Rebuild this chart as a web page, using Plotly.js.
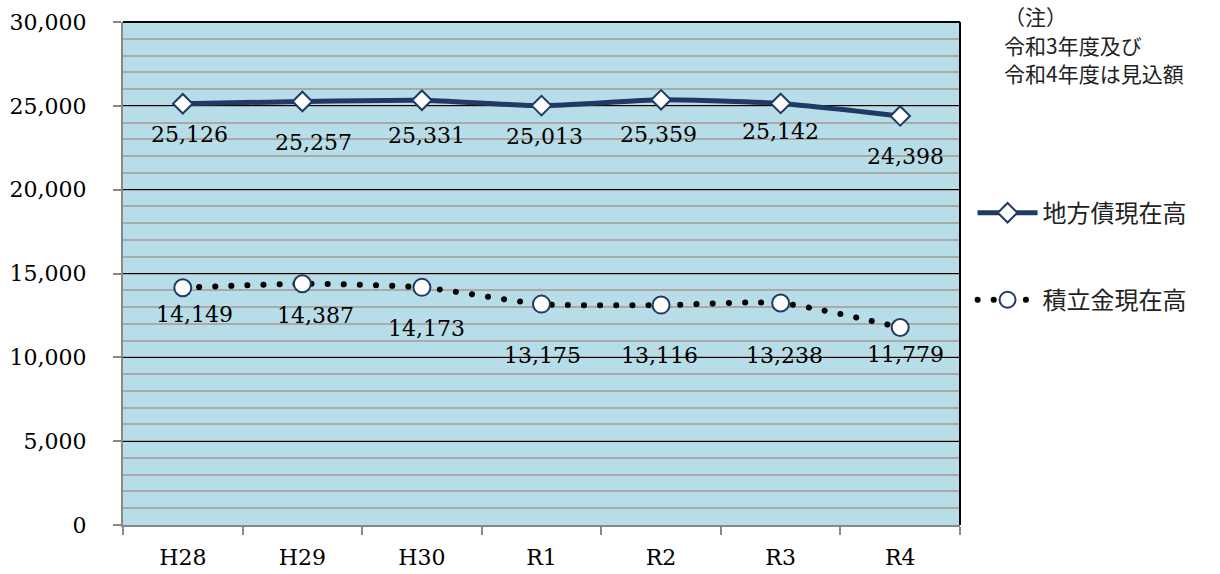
<!DOCTYPE html>
<html><head><meta charset="utf-8">
<script src="https://cdn.plot.ly/plotly-3.0.1.min.js"></script>
<style>
body{margin:0;background:#fff;}
#chart .scatterlayer .trace:nth-child(2) path.js-line, #chart .legend2 path.js-line{stroke-linecap:round;}
</style></head>
<body><div id="chart" style="width:1220px;height:574px;"></div>
<script>
const categories = ["H28","H29","H30","R1","R2","R3","R4"];
const debtValues = [25126, 25257, 25331, 25013, 25359, 25142, 24398];
const fundValues = [14149, 14387, 14173, 13175, 13116, 13238, 11779];
const seriesNames = ["地方債現在高", "積立金現在高"];
const noteLines = ["（注）", "令和3年度及び", "令和4年度は見込額"];
const yTicks = [0, 5000, 10000, 15000, 20000, 25000, 30000];

// label offsets (px) as drawn in the source
const debtLabelShift = [[7,-31],[11,-41],[5,-35],[3,-31],[-3,-35],[0,-28],[5,-41]];
const fundLabelShift = [[12,-27],[13,-32],[5,-41],[1,-51],[-2,-50],[4,-52],[5,-27]];

const numFont = {family: "DejaVu Serif", size: 22, color: "#000"};
const jpFont = {family: "Noto Sans CJK JP", size: 24, color: "#222"};
const navy = "#1F3A64";

const traces = [
  {x: categories, y: debtValues, name: seriesNames[0], type: "scatter", mode: "lines+markers",
   line: {color: navy, width: 5, shape: "spline", smoothing: 0.6},
   marker: {symbol: "diamond", size: 15, color: "#fff", line: {color: navy, width: 2}},
   legend: "legend", hoverinfo: "skip"},
  {x: categories, y: fundValues, name: seriesNames[1], type: "scatter", mode: "lines+markers",
   line: {color: "#000", width: 6, dash: "0.1px,16px", shape: "spline", smoothing: 0.6},
   marker: {symbol: "circle", size: 17, color: "#fff", line: {color: navy, width: 2}},
   legend: "legend2", hoverinfo: "skip"}
];

const fmt = v => v.toLocaleString("en-US");
const annotations = [];
categories.forEach((c, i) => {
  annotations.push({x: c, y: debtValues[i], text: fmt(debtValues[i]), showarrow: false,
    xshift: debtLabelShift[i][0], yshift: debtLabelShift[i][1], font: numFont});
  annotations.push({x: c, y: fundValues[i], text: fmt(fundValues[i]), showarrow: false,
    xshift: fundLabelShift[i][0], yshift: fundLabelShift[i][1], font: numFont});
});
const noteY = [1.012, 0.955, 0.898];
noteLines.forEach((t, i) => {
  annotations.push({xref: "paper", yref: "paper", x: 1.05, y: noteY[i],
    xanchor: "left", yanchor: "middle", showarrow: false, text: t,
    font: {family: "Noto Sans CJK JP", size: 21, color: "#222"}});
});

const layout = {
  width: 1220, height: 574,
  margin: {l: 123, r: 260, t: 22, b: 49},
  paper_bgcolor: "#fff", plot_bgcolor: "#B7DEE8",
  font: numFont,
  xaxis: {type: "category", range: [-0.5, 6.5], tickson: "boundaries", ticks: "outside", ticklen: 8, tickwidth: 2,
    tickcolor: "#888", showline: true, linecolor: "#888", linewidth: 2, showgrid: false,
    tickfont: numFont, ticklabelstandoff: 12, fixedrange: true},
  yaxis: {range: [0, 30000], tickvals: yTicks, tickformat: ",", ticks: "outside", ticklen: 8,
    tickwidth: 2, tickcolor: "#888", showline: true, linecolor: "#888", linewidth: 2,
    showgrid: true, gridcolor: "#000", gridwidth: 1, zeroline: false,
    minor: {dtick: 1000, showgrid: true, gridcolor: "#A9A9A9", gridwidth: 2},
    tickfont: numFont, ticklabelstandoff: 22, fixedrange: true},
  showlegend: true,
  legend: {x: 1.015, y: 0.62, xanchor: "left", yanchor: "middle", font: jpFont,
    bgcolor: "rgba(0,0,0,0)", itemwidth: 60},
  legend2: {x: 1.015, y: 0.447, xanchor: "left", yanchor: "middle", font: jpFont,
    bgcolor: "rgba(0,0,0,0)", itemwidth: 60},
  shapes: [
    {type: "line", xref: "paper", yref: "paper", x0: 1, x1: 1, y0: 0, y1: 1, line: {color: "#000", width: 2}},
    {type: "line", xref: "paper", yref: "paper", x0: 0, x1: 1, y0: 1, y1: 1, line: {color: "#000", width: 2}}
  ],
  annotations: annotations
};

Plotly.newPlot("chart", traces, layout, {staticPlot: true, displayModeBar: false});
</script></body></html>
